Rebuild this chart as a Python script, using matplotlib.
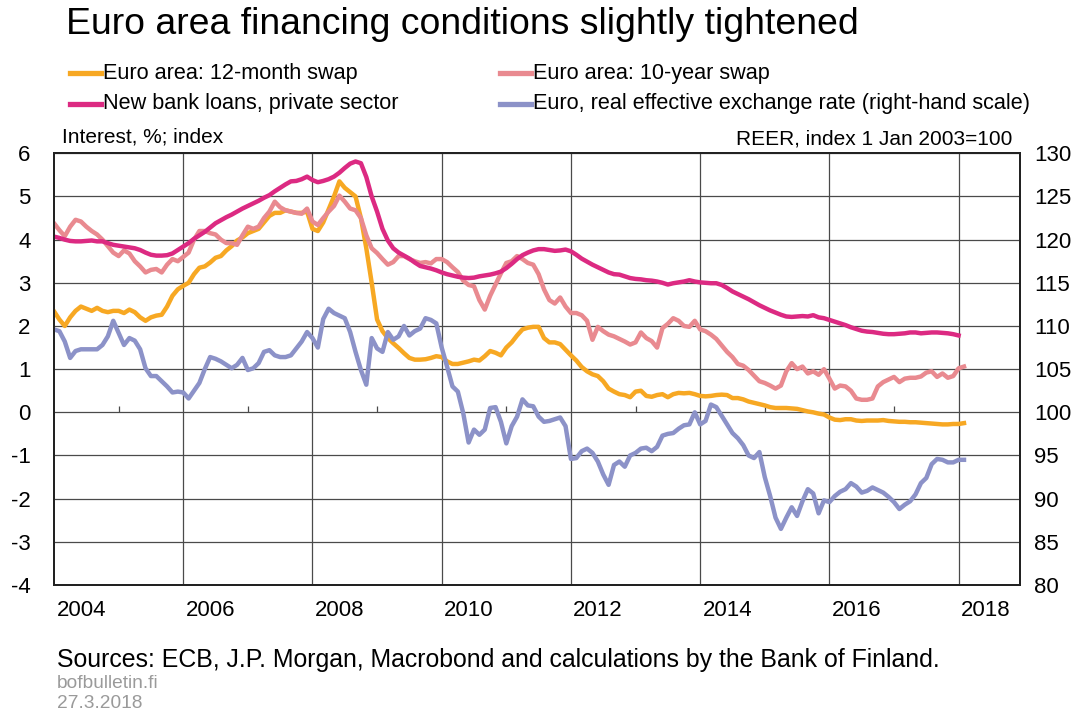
import numpy as np
import pandas as pd
import matplotlib
matplotlib.use("Agg")
import matplotlib.pyplot as plt
from matplotlib.lines import Line2D

plt.rcParams['font.family'] = ['Liberation Sans', 'DejaVu Sans']

# ---------------- data (monthly, Jan 2004 onwards) ----------------
swap_12m = [
    2.34, 2.15, 2.00, 2.20, 2.35, 2.45, 2.40, 2.35, 2.42, 2.35, 2.32, 2.35,
    2.35, 2.30, 2.38, 2.32, 2.20, 2.12, 2.20, 2.24, 2.26, 2.45, 2.70, 2.85,
    2.93, 3.00, 3.20, 3.35, 3.38, 3.47, 3.58, 3.62, 3.75, 3.85, 3.98, 4.05,
    4.15, 4.20, 4.25, 4.40, 4.55, 4.62, 4.62, 4.68, 4.65, 4.62, 4.62, 4.65,
    4.25, 4.20, 4.40, 4.70, 5.00, 5.35, 5.20, 5.10, 5.00, 4.50, 3.80, 3.00,
    2.15, 1.88, 1.72, 1.60, 1.49, 1.37, 1.26, 1.22, 1.22, 1.23, 1.26, 1.30,
    1.28, 1.18, 1.12, 1.12, 1.15, 1.18, 1.22, 1.20, 1.30, 1.42, 1.38, 1.32,
    1.50, 1.62, 1.78, 1.92, 1.96, 1.98, 1.98, 1.72, 1.62, 1.62, 1.58, 1.45,
    1.32, 1.20, 1.05, 0.95, 0.88, 0.84, 0.72, 0.55, 0.48, 0.42, 0.40, 0.35,
    0.48, 0.50, 0.38, 0.36, 0.40, 0.42, 0.35, 0.42, 0.45, 0.44, 0.45, 0.42,
    0.38, 0.37, 0.38, 0.40, 0.41, 0.40, 0.33, 0.33, 0.30, 0.25, 0.22, 0.19,
    0.16, 0.12, 0.10, 0.10, 0.10, 0.09, 0.08, 0.05, 0.02, 0.00, -0.03, -0.05,
    -0.12, -0.17, -0.18, -0.16, -0.16, -0.19, -0.20, -0.19, -0.19, -0.19, -0.18, -0.20,
    -0.21, -0.22, -0.22, -0.23, -0.23, -0.24, -0.25, -0.26, -0.27, -0.28, -0.28, -0.27,
    -0.27, -0.25,
]

swap_10y = [
    4.38, 4.22, 4.08, 4.30, 4.46, 4.42, 4.30, 4.20, 4.12, 4.00, 3.85, 3.70,
    3.62, 3.75, 3.68, 3.50, 3.38, 3.24, 3.30, 3.32, 3.24, 3.42, 3.55, 3.50,
    3.60, 3.70, 4.00, 4.20, 4.20, 4.15, 4.12, 4.00, 3.92, 3.92, 3.88, 4.10,
    4.30, 4.25, 4.30, 4.50, 4.65, 4.88, 4.75, 4.68, 4.65, 4.62, 4.60, 4.72,
    4.42, 4.34, 4.50, 4.65, 4.78, 5.02, 4.88, 4.72, 4.68, 4.50, 4.10, 3.80,
    3.69, 3.55, 3.42, 3.48, 3.62, 3.62, 3.55, 3.50, 3.46, 3.48, 3.45, 3.55,
    3.55, 3.48, 3.36, 3.25, 3.05, 2.95, 2.92, 2.60, 2.38, 2.70, 2.96, 3.22,
    3.46, 3.50, 3.62, 3.55, 3.46, 3.42, 3.20, 2.85, 2.60, 2.52, 2.66, 2.45,
    2.30, 2.30, 2.25, 2.12, 1.68, 1.98, 1.88, 1.80, 1.76, 1.70, 1.64, 1.57,
    1.62, 1.85, 1.72, 1.65, 1.50, 1.95, 2.05, 2.18, 2.12, 2.00, 1.98, 2.12,
    1.92, 1.88, 1.80, 1.70, 1.55, 1.40, 1.28, 1.12, 1.08, 0.98, 0.85, 0.72,
    0.68, 0.62, 0.55, 0.62, 0.95, 1.14, 1.00, 1.06, 0.90, 0.95, 0.87, 1.00,
    0.78, 0.55, 0.62, 0.60, 0.50, 0.32, 0.29, 0.29, 0.32, 0.60, 0.70, 0.76,
    0.82, 0.70, 0.78, 0.80, 0.80, 0.83, 0.92, 0.95, 0.82, 0.90, 0.80, 0.84,
    1.02, 1.06,
]

bank_loans = [
    4.07, 4.04, 4.00, 3.97, 3.96, 3.96, 3.97, 3.98, 3.96, 3.96, 3.92, 3.88,
    3.86, 3.84, 3.82, 3.80, 3.76, 3.70, 3.65, 3.63, 3.63, 3.64, 3.68, 3.76,
    3.84, 3.92, 4.02, 4.10, 4.18, 4.28, 4.38, 4.45, 4.52, 4.58, 4.65, 4.72,
    4.78, 4.84, 4.90, 4.97, 5.03, 5.12, 5.20, 5.28, 5.35, 5.36, 5.40, 5.46,
    5.38, 5.33, 5.36, 5.40, 5.46, 5.55, 5.66, 5.76, 5.81, 5.77, 5.45, 5.00,
    4.65, 4.25, 3.98, 3.80, 3.70, 3.63, 3.56, 3.47, 3.39, 3.36, 3.33, 3.29,
    3.24, 3.20, 3.17, 3.14, 3.12, 3.11, 3.12, 3.15, 3.17, 3.19, 3.22, 3.26,
    3.34, 3.44, 3.55, 3.64, 3.70, 3.75, 3.78, 3.78, 3.76, 3.74, 3.75, 3.77,
    3.73, 3.65, 3.56, 3.49, 3.42, 3.36, 3.30, 3.24, 3.20, 3.19, 3.15, 3.11,
    3.09, 3.08, 3.06, 3.05, 3.03, 3.00, 2.96, 2.99, 3.01, 3.03, 3.06, 3.03,
    3.01, 3.00, 2.99, 2.99, 2.95, 2.88, 2.80, 2.74, 2.68, 2.62, 2.55, 2.48,
    2.42, 2.36, 2.31, 2.26, 2.22, 2.21, 2.22, 2.23, 2.22, 2.25, 2.20, 2.18,
    2.14, 2.10, 2.06, 2.02, 1.97, 1.93, 1.89, 1.87, 1.86, 1.84, 1.82, 1.81,
    1.81, 1.82, 1.83, 1.85, 1.85, 1.83, 1.84, 1.85, 1.85, 1.84, 1.83, 1.81,
    1.78,
]

reer = [
    109.6, 109.4, 108.2, 106.3, 107.1, 107.3, 107.3, 107.3, 107.3, 107.8, 108.8, 110.6,
    109.2, 107.8, 108.6, 108.3, 107.3, 105.1, 104.2, 104.2, 103.6, 103.0, 102.3, 102.4,
    102.3, 101.6, 102.5, 103.4, 105.0, 106.4, 106.2, 105.9, 105.5, 105.1, 105.5, 106.3,
    104.9, 105.1, 105.7, 107.0, 107.2, 106.6, 106.4, 106.4, 106.6, 107.4, 108.2, 109.3,
    108.6, 107.5, 110.8, 112.0, 111.5, 111.2, 110.9, 109.3, 107.0, 104.9, 103.2, 108.6,
    107.4, 107.0, 109.3, 108.4, 108.8, 110.0, 108.9, 109.4, 109.7, 110.9, 110.7, 110.3,
    107.5, 105.3, 103.0, 102.4, 99.9, 96.5, 98.0, 97.4, 98.0, 100.5, 100.6, 98.9,
    96.4, 98.4, 99.5, 101.5, 100.8, 100.7, 99.5, 98.9, 99.0, 99.2, 99.4, 98.4,
    94.6, 94.7, 95.5, 95.8, 95.3, 94.3, 92.8, 91.6, 93.9, 94.3, 93.7, 95.0,
    95.3, 95.8, 95.9, 95.5, 96.0, 97.3, 97.5, 97.6, 98.1, 98.5, 98.6, 100.0,
    98.6, 99.0, 100.9, 100.6, 99.6, 98.6, 97.6, 97.0, 96.2, 95.0, 94.7, 95.4,
    92.5, 90.3, 87.8, 86.5, 87.8, 89.0, 88.0, 89.7, 91.1, 90.6, 88.3, 89.8,
    89.6, 90.3, 90.8, 91.1, 91.8, 91.4, 90.7, 90.9, 91.3, 91.0, 90.7, 90.2,
    89.6, 88.8, 89.3, 89.7, 90.5, 91.8, 92.4, 94.0, 94.6, 94.5, 94.2, 94.2,
    94.5, 94.5,
]

labels = ["Euro area: 12-month swap", "Euro area: 10-year swap",
          "New bank loans, private sector",
          "Euro, real effective exchange rate (right-hand scale)"]
colors = ["#F7A823", "#E98A90", "#DC2A82", "#8C92C8"]

left_ticks = list(range(-4, 7))
right_ticks = list(range(80, 131, 5))
year_labels = list(range(2004, 2019, 2))

months = pd.date_range("2004-01-01", periods=len(swap_12m), freq="MS")
xs = np.asarray(months.year + (months.month - 1) / 12.0, dtype=float)

# ---------------- figure ----------------
W, H = 1088, 713
fig = plt.figure(figsize=(W / 100, H / 100), dpi=100)
ax = fig.add_axes([54 / W, 1 - 585 / H, (1020 - 54) / W, (585 - 153.3) / H])
ax2 = ax.twinx()

lw = 3.2
ax.plot(xs, swap_12m, color=colors[0], lw=lw, solid_joinstyle="round", zorder=3)
ax.plot(xs, swap_10y, color=colors[1], lw=lw, solid_joinstyle="round", zorder=4)
ax.plot(xs[:len(bank_loans)], bank_loans, color=colors[2], lw=lw,
        solid_joinstyle="round", zorder=5)
ax2.plot(xs, reer, color=colors[3], lw=lw, solid_joinstyle="round")

ax.set_xlim(2004, 2018.95)
ax.set_ylim(-4, 6)
ax2.set_ylim(80, 130)

grid_kw = dict(color="#4a4a4a", lw=0.9)
ax.set_yticks(left_ticks)
ax.set_yticklabels([str(v) for v in left_ticks])
ax2.set_yticks(right_ticks)
ax2.set_yticklabels([str(v) for v in right_ticks])
ax.set_xticks(year_labels[1:])
ax.set_xticklabels([])
ax.set_xticks([y + 0.42 for y in year_labels], minor=True)
ax.set_xticklabels([str(y) for y in year_labels], minor=True)
ax.grid(True, which="major", axis="both", **grid_kw)
ax.set_axisbelow(True)
# small year ticks on the zero line
ax.vlines([y for y in range(2005, 2019, 2)], 0, 0.14, color="#4a4a4a", lw=0.9, zorder=1)

ax.tick_params(axis="x", which="both", length=0, labelsize=16, pad=11)
ax.tick_params(axis="y", length=0, labelsize=16, pad=17)
ax2.tick_params(axis="y", length=0, labelsize=16, pad=10)
for a in (ax, ax2):
    for s in a.spines.values():
        s.set_color("#222222")
        s.set_linewidth(1.4)

# ---------------- texts ----------------
fig.text(66 / W, 1 - 25 / H, "Euro area financing conditions slightly tightened",
         fontsize=26.9, va="center", ha="left")

legend_pos = [(70, 73), (500, 73), (70, 104), (500, 104)]
for (px, py), lab, col in zip(legend_pos, labels, colors):
    yy = 1 - py / H
    fig.add_artist(Line2D([px / W, (px + 31) / W], [yy, yy], color=col, lw=3.8,
                          transform=fig.transFigure))
    fig.text((px + 33) / W, yy, lab, fontsize=15.6, va="center", ha="left")

fig.text(62 / W, 1 - 137 / H, "Interest, %; index", fontsize=15, va="center", ha="left")
fig.text(1012 / W, 1 - 139 / H, "REER, index 1 Jan 2003=100", fontsize=15,
         va="center", ha="right")

fig.text(57 / W, 1 - 660 / H,
         "Sources: ECB, J.P. Morgan, Macrobond and calculations by the Bank of Finland.",
         fontsize=17.9, va="center", ha="left")
fig.text(57 / W, 1 - 684 / H, "bofbulletin.fi", fontsize=13.8, color="#9a9a9a",
         va="center", ha="left")
fig.text(57 / W, 1 - 704 / H, "27.3.2018", fontsize=13.8, color="#9a9a9a",
         va="center", ha="left")

fig.savefig("out.png", dpi=100)
